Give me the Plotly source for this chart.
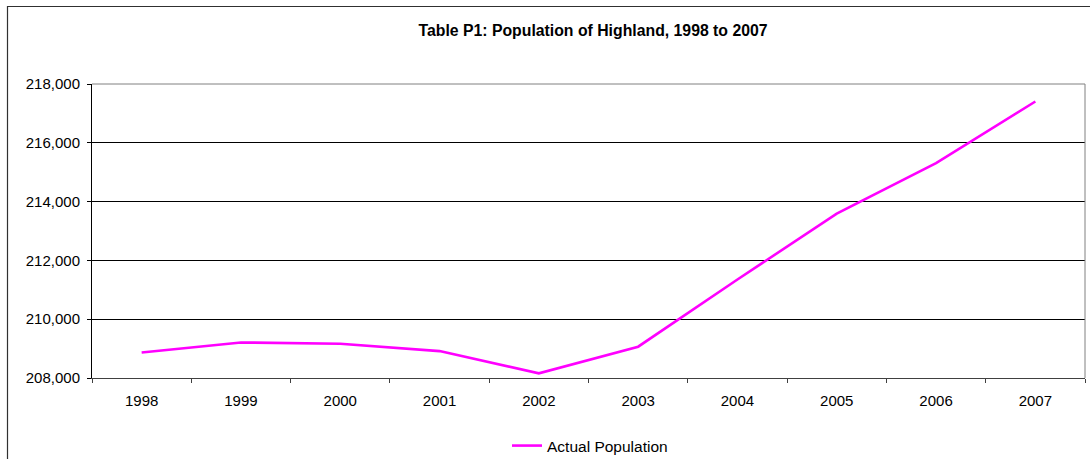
import plotly.graph_objects as go

# Mid-year population estimates for Highland
years = ["1998", "1999", "2000", "2001", "2002", "2003", "2004", "2005", "2006", "2007"]
population = [208870, 209210, 209165, 208915, 208160, 209065, 211350, 213590, 215310, 217405]

series_name = "Actual Population"
chart_title = "Table P1: Population of Highland, 1998 to 2007"
y_ticks = [208000, 210000, 212000, 214000, 216000, 218000]

W, H = 1090, 459
ML, MR, MT, MB = 92, 5, 84, 81
PW = W - ML - MR
PH = H - MT - MB


def px_x(p):
    return (p - ML) / PW


def px_y(p):
    return (H - MB - p) / PH


FONT = "Liberation Sans, Arial, sans-serif"

fig = go.Figure()
fig.add_trace(go.Scatter(
    x=years, y=population, mode="lines", name=series_name,
    line=dict(color="#FF00FF", width=2.6),
))

fig.update_layout(
    width=W, height=H,
    margin=dict(l=ML, r=MR, t=MT, b=MB, autoexpand=False),
    paper_bgcolor="white", plot_bgcolor="white",
    font=dict(family=FONT, size=15, color="black"),
    title=dict(
        text="<b>" + chart_title + "</b>",
        font=dict(family=FONT, size=15.8, color="black"),
        xref="paper", x=px_x(593), xanchor="center",
        yref="container", y=1 - 30 / H, yanchor="middle",
    ),
    showlegend=True,
    legend=dict(
        orientation="h", xref="paper", x=px_x(590), xanchor="center",
        yref="container", y=1 - 446 / H, yanchor="middle",
        font=dict(family=FONT, size=15.5, color="black"),
        bgcolor="rgba(0,0,0,0)",
    ),
    xaxis=dict(
        type="category", range=[-0.5, 9.5],
        showgrid=False, zeroline=False,
        showline=True, linecolor="#404040", linewidth=1,
        ticks="outside", tickson="boundaries", ticklen=4, tickcolor="#404040",
        ticklabelstandoff=9,
        tickfont=dict(family=FONT, size=15, color="black"),
    ),
    yaxis=dict(
        range=[208000, 218000], tickvals=y_ticks, tickformat=",",
        showgrid=True, gridcolor="black", gridwidth=1, zeroline=False,
        showline=True, linecolor="black", linewidth=1,
        ticks="outside", ticklen=4, tickcolor="black",
        ticklabelstandoff=4,
        tickfont=dict(family=FONT, size=15, color="black"),
    ),
    shapes=[
        # grey frame on the top and right of the plotting area
        dict(type="line", xref="paper", yref="paper", x0=0, x1=1, y0=1, y1=1,
             line=dict(color="#808080", width=1), layer="above"),
        dict(type="line", xref="paper", yref="paper", x0=1, x1=1, y0=0, y1=1,
             line=dict(color="#808080", width=1), layer="above"),
        # outer chart border
        dict(type="rect", xref="paper", yref="paper",
             x0=px_x(7.5), x1=px_x(W + 20), y0=px_y(H + 20), y1=px_y(6.5),
             line=dict(color="#303030", width=1.2), layer="below"),
    ],
)

fig.write_html("out.html")
